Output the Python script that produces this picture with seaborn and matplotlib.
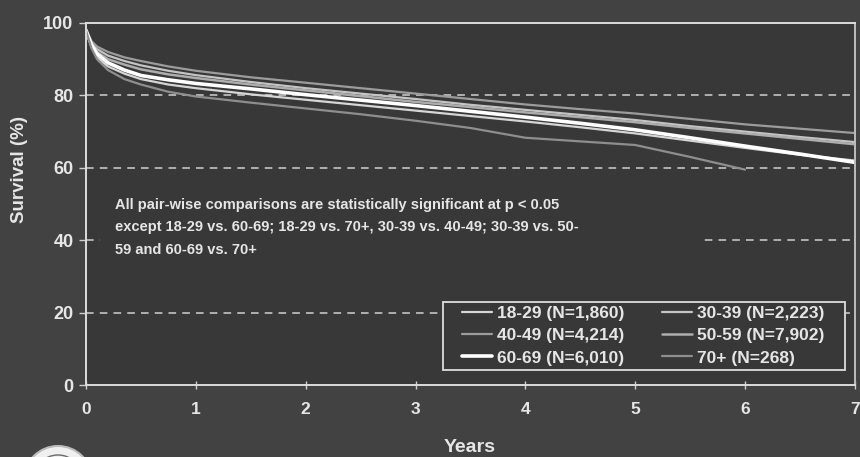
import matplotlib
matplotlib.use("Agg")
import matplotlib.pyplot as plt
from matplotlib.patches import Ellipse, Rectangle
import numpy as np
import pandas as pd
import seaborn as sns

# Follow-up times (years) at which survival was read
years = [0, 0.05, 0.1, 0.2, 0.35, 0.5, 0.75, 1, 1.5, 2, 2.5, 3, 3.5, 4, 4.5, 5, 5.5, 6, 6.5, 7]
years_70 = years[:18]

surv_18_29 = [98, 93.5, 90.5, 88, 86, 84.5, 83, 82, 80.3, 78.8, 77.3, 75.8, 74.3, 72.8, 71.2, 69.5, 67.5, 65.5, 63.6, 62.0]
surv_30_39 = [98, 94.5, 92.8, 91, 89.5, 88.3, 86.8, 85.6, 83.7, 82, 80.5, 79, 77.4, 76, 74.6, 73.2, 71.5, 70, 68.5, 67.1]
surv_40_49 = [98, 95, 93.5, 92, 90.5, 89.5, 88, 86.8, 85, 83.5, 82, 80.5, 79, 77.5, 76.2, 75, 73.5, 72, 70.8, 69.6]
surv_50_59 = [98, 94, 92, 90, 88.5, 87.2, 85.8, 84.8, 83, 81.4, 79.8, 78.2, 76.8, 75.3, 74, 72.6, 71, 69.5, 68, 66.5]
surv_60_69 = [98, 94, 91.5, 89, 87, 85.5, 84.3, 83.3, 81.8, 80.2, 78.7, 77.2, 75.6, 74, 72.3, 70.5, 68.3, 66, 63.8, 61.5]
surv_70plus = [98, 93, 90, 87, 84.5, 83, 81, 79.7, 78, 76.4, 74.8, 73, 71, 68.3, 67.3, 66.3, 63, 59.5]

labels = ["18-29 (N=1,860)", "30-39 (N=2,223)", "40-49 (N=4,214)",
          "50-59 (N=7,902)", "60-69 (N=6,010)", "70+ (N=268)"]

x_ticks = [0, 1, 2, 3, 4, 5, 6, 7]
y_ticks = [0, 20, 40, 60, 80, 100]

note = ("All pair-wise comparisons are statistically significant at p < 0.05\n"
        "except 18-29 vs. 60-69; 18-29 vs. 70+, 30-39 vs. 40-49; 30-39 vs. 50-\n"
        "59 and 60-69 vs. 70+")

series = [
    (labels[0], years, surv_18_29, "#d6d6d6", 1.6),
    (labels[1], years, surv_30_39, "#c4c4c4", 1.6),
    (labels[2], years, surv_40_49, "#9c9c9c", 1.6),
    (labels[3], years, surv_50_59, "#adadad", 1.8),
    (labels[4], years, surv_60_69, "#ffffff", 2.6),
    (labels[5], years_70, surv_70plus, "#8e8e8e", 1.6),
]

sns.set_theme(style="dark")
plt.rcParams["font.family"] = ["Liberation Sans", "DejaVu Sans"]
plt.rcParams["font.weight"] = "bold"

fig_bg = "#424242"
ax_bg = "#383838"
fg = "#e6e6e6"
W, H = 860, 457

fig = plt.figure(figsize=(8.6, 4.57), dpi=100, facecolor=fig_bg)
ax = fig.add_axes([0.1, 0.1575, 0.894, 0.7922], facecolor=ax_bg)

for name, xs, ys, col, lw in series:
    df = pd.DataFrame({"Years": xs, "Survival": ys})
    sns.lineplot(data=df, x="Years", y="Survival", ax=ax, color=col,
                 linewidth=lw, label=name, legend=False)
if ax.get_legend() is not None:
    ax.get_legend().remove()

ax.set_xlim(0, 7)
ax.set_ylim(0, 100)
ax.set_xticks(x_ticks)
ax.set_yticks(y_ticks)
ax.set_xticklabels([str(t) for t in x_ticks], color=fg, fontsize=12.5, fontweight="bold")
ax.set_yticklabels([str(t) for t in y_ticks], color=fg, fontsize=13, fontweight="bold")
ax.tick_params(axis="x", direction="inout", length=6, width=1, color="#cfcfcf", pad=9)
ax.tick_params(axis="y", direction="out", length=5, width=1, color="#cfcfcf", pad=4)
ax.tick_params(bottom=True, left=True)

for y in [20, 40, 60, 80]:
    ax.axhline(y, color="#d0d0d0", linestyle=(0, (5, 4)), linewidth=1.1, zorder=0.5)
ax.grid(False)

for side in ["left", "bottom", "top", "right"]:
    ax.spines[side].set_visible(True)
    ax.spines[side].set_color("#dcdcdc")
    ax.spines[side].set_linewidth(1.4)
ax.spines["right"].set_color("#bdbdbd")

ax.set_xlabel("")
ax.set_ylabel("")
fig.text(470 / W, 1 - 448 / H, "Years", ha="center", va="center",
         color=fg, fontsize=14, fontweight="bold")
fig.text(20 / W, 1 - 170 / H, "Survival (%)", ha="center", va="center",
         rotation=90, color=fg, fontsize=13.5, fontweight="bold")

# Significance note on an opaque panel that hides the grid behind it
panel = Rectangle((100 / W, 1 - 266 / H), (702 - 100) / W, (266 - 186) / H,
                  transform=fig.transFigure, facecolor=ax_bg, edgecolor="none",
                  zorder=1)
ax.add_patch(panel)
ax.text(0.26, 51.6, note, ha="left", va="top", color=fg, fontsize=10.5,
        fontweight="bold", linespacing=1.75, zorder=3)

# Legend entries laid out row by row, two per row, inside a plain box
handles, hlabels = ax.get_legend_handles_labels()
order = [0, 2, 4, 1, 3, 5]
box = Rectangle((443 / W, 1 - 370 / H), (845 - 443) / W, (370 - 302) / H,
                transform=fig.transFigure, facecolor=ax_bg, edgecolor="#dcdcdc",
                linewidth=1.3, zorder=4)
fig.patches.append(box)
leg = fig.legend([handles[i] for i in order], [hlabels[i] for i in order],
                 loc="upper left", bbox_to_anchor=(462 / W, 1 - 305.5 / H),
                 bbox_transform=fig.transFigure, ncol=2, frameon=False,
                 fontsize=12.5, handlelength=1.7, handletextpad=0.3,
                 columnspacing=2.2, labelspacing=0.42, borderpad=0,
                 borderaxespad=0)
leg.set_zorder(5)
for t in leg.get_texts():
    t.set_color(fg)
    t.set_fontweight("bold")

# Seal emblem at the lower-left corner
cx, cy = 58 / W, 1 - 480 / H
seal = Ellipse((cx, cy), 68 / W, 68 / H, transform=fig.transFigure,
               facecolor="#f0f0f0", edgecolor="#bbbbbb", linewidth=1.5,
               clip_on=False)
fig.patches.append(seal)
inner = Ellipse((cx, cy), 50 / W, 50 / H, transform=fig.transFigure,
                facecolor="none", edgecolor="#6a6a6a", linewidth=1.0,
                clip_on=False)
fig.patches.append(inner)

fig.savefig("out.png", dpi=100, facecolor=fig_bg)
